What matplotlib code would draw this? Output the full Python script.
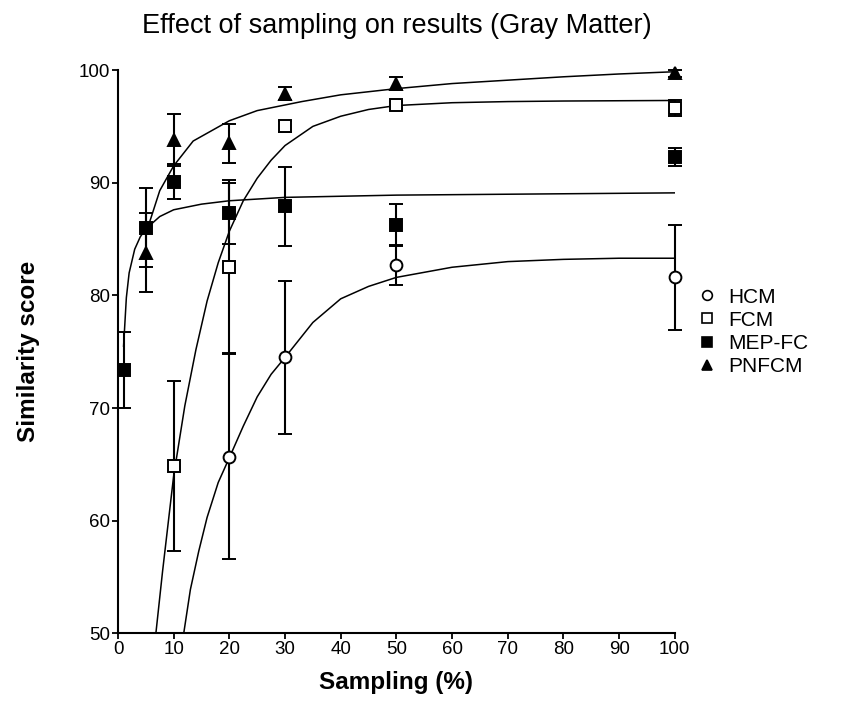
import matplotlib
matplotlib.use("Agg")
import matplotlib.pyplot as plt
from matplotlib.lines import Line2D

plt.rcParams["font.family"] = ["Liberation Sans", "DejaVu Sans"]

# ── measured points (mean ± error) ───────────────────────────
hcm_x = [20, 30, 50, 100]
hcm_y = [65.7, 74.5, 82.7, 81.6]
hcm_err = [9.1, 6.8, 1.8, 4.65]

fcm_x = [10, 20, 30, 50, 100]
fcm_y = [64.9, 82.55, 95.0, 96.9, 96.6]
fcm_err = [7.55, 7.7, 0.5, 0.3, 0.7]

mep_x = [1, 5, 10, 20, 30, 50, 100]
mep_y = [73.4, 86.0, 90.1, 87.3, 87.9, 86.25, 92.3]
mep_err = [3.35, 3.5, 1.55, 2.7, 3.5, 1.9, 0.8]

pnf_x = [5, 10, 20, 30, 50, 100]
pnf_y = [83.8, 93.8, 93.5, 97.9, 98.8, 99.7]
pnf_err = [3.5, 2.3, 1.75, 0.6, 0.6, 0.3]

# ── fitted curves ────────────────────────────────────────────
hcm_fit_x = [11.8, 13, 14.5, 16, 18, 20, 22.5, 25, 27.5, 30, 35, 40, 45, 50, 60, 70, 80, 90, 100]
hcm_fit_y = [50.0, 53.9, 57.3, 60.3, 63.4, 65.6, 68.4, 71.0, 73.0, 74.5, 77.6, 79.7, 80.8, 81.6, 82.5, 83.0, 83.2, 83.3, 83.3]

fcm_fit_x = [6.8, 8, 10, 12, 14, 16, 18, 20, 22.5, 25, 27.5, 30, 35, 40, 45, 50, 60, 70, 80, 100]
fcm_fit_y = [50.0, 55.5, 64.0, 70.2, 75.2, 79.5, 82.9, 85.7, 88.4, 90.4, 92.0, 93.3, 95.0, 95.9, 96.5, 96.85, 97.1, 97.2, 97.25, 97.3]

mep_fit_x = [1, 1.5, 2, 3, 4, 5, 7.5, 10, 15, 20, 30, 50, 75, 100]
mep_fit_y = [75.5, 79.8, 82.0, 84.1, 85.2, 85.9, 87.0, 87.6, 88.1, 88.4, 88.7, 88.9, 89.0, 89.1]

pnf_fit_x = [5, 6, 7.5, 10, 13.5, 20, 25, 33, 40, 50, 60, 70, 80, 90, 100]
pnf_fit_y = [85.5, 87.0, 89.3, 91.5, 93.7, 95.5, 96.4, 97.2, 97.8, 98.35, 98.8, 99.1, 99.4, 99.65, 99.85]

labels = ["HCM", "FCM", "MEP-FC", "PNFCM"]

fig = plt.figure(figsize=(8.52, 7.06), dpi=100)
ax = fig.add_axes([0.1385, 0.1027, 0.6535, 0.7981])

for fx, fy in [(hcm_fit_x, hcm_fit_y), (fcm_fit_x, fcm_fit_y),
               (mep_fit_x, mep_fit_y), (pnf_fit_x, pnf_fit_y)]:
    ax.plot(fx, fy, color="black", lw=1.1, zorder=2)

series = [
    (hcm_x, hcm_y, hcm_err, "o", "white"),
    (fcm_x, fcm_y, fcm_err, "s", "white"),
    (mep_x, mep_y, mep_err, "s", "black"),
    (pnf_x, pnf_y, pnf_err, "^", "black"),
]
for sx, sy, se, mk, fc in series:
    cont = ax.errorbar(sx, sy, yerr=se, fmt=mk, ms=8.5, mfc=fc, mec="black",
                       mew=1.4, ecolor="black", elinewidth=1.5, capsize=5,
                       capthick=1.5, zorder=3)
    for art in cont.get_children():
        art.set_clip_on(False)

ax.set_xlim(0, 100)
ax.set_ylim(50, 100)
ax.set_xticks(range(0, 101, 10))
ax.set_yticks(range(50, 101, 10))
ax.spines[["top", "right"]].set_visible(False)
ax.spines[["left", "bottom"]].set_linewidth(1.5)
ax.tick_params(direction="out", length=4, width=1.3, labelsize=13.5, pad=1.5)

ax.set_xlabel("Sampling (%)", fontsize=17.5, fontweight="bold", labelpad=9)
ax.set_ylabel("Similarity score", fontsize=17.5, fontweight="bold", labelpad=28)
ax.set_title("Effect of sampling on results (Gray Matter)", fontsize=19.5, pad=27)

handles = [Line2D([], [], ls="none", marker=mk, ms=7, mfc=fc, mec="black", mew=1.2)
           for _, _, _, mk, fc in series]
fig.legend(handles, labels, loc="center left", bbox_to_anchor=(0.798, 0.53),
           frameon=False, fontsize=15, handlelength=0.8, handletextpad=0.6,
           labelspacing=0.2, borderpad=0.4)

fig.savefig("out.png", dpi=100)
